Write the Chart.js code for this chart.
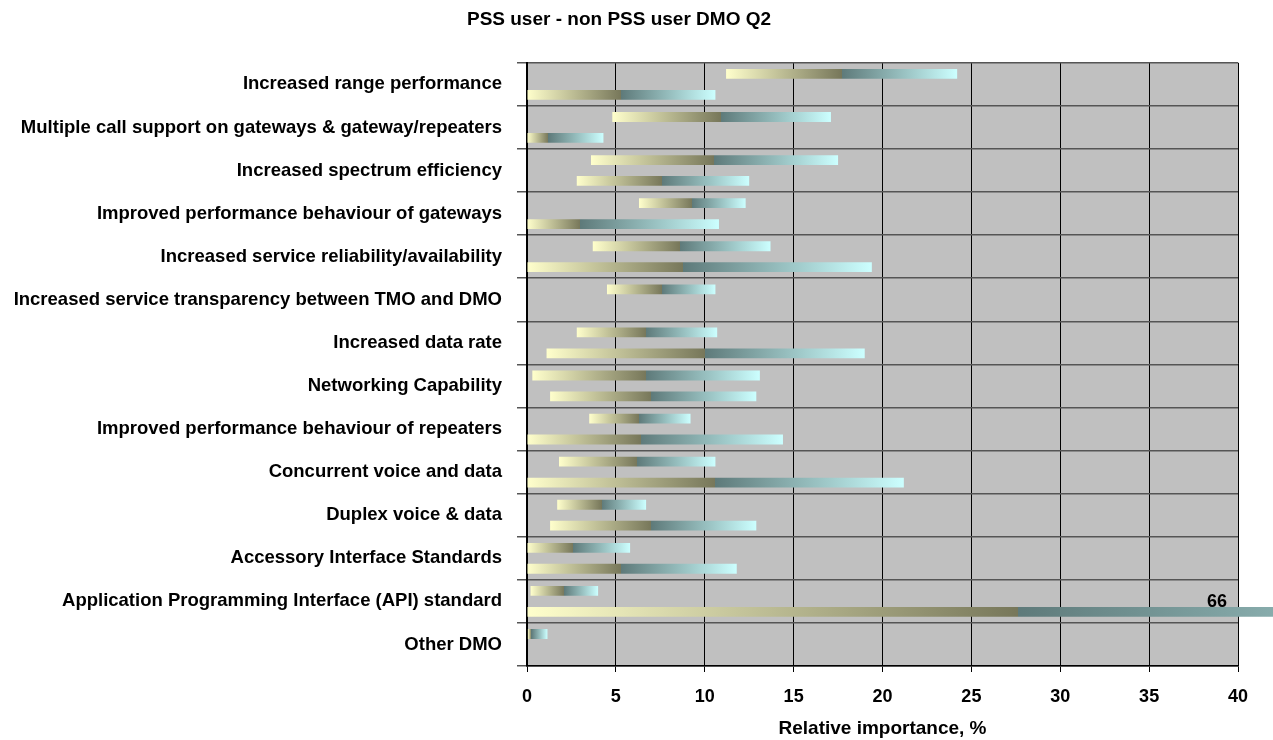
<!DOCTYPE html>
<html>
<head>
<meta charset="utf-8">
<title>PSS user - non PSS user DMO Q2</title>
<script src="https://cdn.jsdelivr.net/npm/chart.js@4.4.1/dist/chart.umd.min.js"></script>
<style>
  html, body { margin: 0; padding: 0; background: #fff; }
  #wrap { width: 1273px; height: 740px; }
</style>
</head>
<body>
<div id="wrap"><canvas id="dmoChart" width="1273" height="740"></canvas></div>
<script>
const categories = [
  "Increased range performance",
  "Multiple call support on gateways & gateway/repeaters",
  "Increased spectrum efficiency",
  "Improved performance behaviour of gateways",
  "Increased service reliability/availability",
  "Increased service transparency between TMO and DMO",
  "Increased data rate",
  "Networking Capability",
  "Improved performance behaviour of repeaters",
  "Concurrent voice and data",
  "Duplex voice & data",
  "Accessory Interface Standards",
  "Application Programming Interface (API) standard",
  "Other DMO"
];

// upper bar of each row
const pssLow  = [11.2, 4.8,  3.6,  6.3,  3.7,  4.5, 2.8,  0.3,  3.5, 1.8,  1.7, 0,   0.2, 0.05];
const pssMid  = [17.7, 10.9, 10.5, 9.3,  8.6,  7.6, 6.7,  6.7,  6.3, 6.2,  4.2, 2.6, 2.1, 0.25];
const pssHigh = [24.2, 17.1, 17.5, 12.3, 13.7, 10.6, 10.7, 13.1, 9.2, 10.6, 6.7, 5.8, 4.0, 1.15];

// lower bar of each row
const nonLow  = [0,    0,   2.8,  0,    0,    null, 1.1,  1.3,  0,    0,    1.3,  0,    0,    null];
const nonMid  = [5.3,  1.2, 7.6,  3.0,  8.8,  null, 10.0, 7.0,  6.4,  10.6, 7.0,  5.3,  27.6, null];
const nonHigh = [10.6, 4.3, 12.5, 10.8, 19.4, null, 19.0, 12.9, 14.4, 21.2, 12.9, 11.8, 66,   null];

const xTicksMax = 40;
const xTickStep = 5;

const FONT = '"Liberation Sans", Arial, sans-serif';

function toRanges(lows, highs) {
  return lows.map((lo, i) => (highs[i] == null ? null : [lo, highs[i]]));
}

// two-part gradient: pale yellow -> olive up to the mid value, then teal -> pale cyan
function barFill(lows, mids, highs) {
  return function (ctx) {
    const chart = ctx.chart;
    const i = ctx.dataIndex;
    if (!chart.chartArea || highs[i] == null) return '#FFFFCC';
    const x = chart.scales.x;
    const x0 = x.getPixelForValue(lows[i]);
    const x1 = x.getPixelForValue(highs[i]);
    const split = (mids[i] - lows[i]) / (highs[i] - lows[i]);
    const g = chart.ctx.createLinearGradient(x0, 0, x1, 0);
    g.addColorStop(0, '#FFFFCC');
    g.addColorStop(split, '#77775A');
    g.addColorStop(split, '#5E7A7A');
    g.addColorStop(1, '#CCFFFF');
    return g;
  };
}

const plotBackground = {
  id: 'plotBackground',
  beforeDraw(chart) {
    const { ctx, chartArea: a } = chart;
    ctx.save();
    ctx.fillStyle = '#FFFFFF';
    ctx.fillRect(0, 0, chart.width, chart.height);
    ctx.fillStyle = '#C0C0C0';
    ctx.fillRect(a.left, a.top, a.right - a.left, a.bottom - a.top);
    ctx.restore();
  }
};

// value label for bars running past the end of the axis
const overflowLabels = {
  id: 'overflowLabels',
  afterDatasetsDraw(chart) {
    const xScale = chart.scales.x;
    const meta = chart.getDatasetMeta(1);
    const ctx = chart.ctx;
    ctx.save();
    ctx.font = 'bold 18px ' + FONT;
    ctx.fillStyle = '#000';
    ctx.textAlign = 'right';
    ctx.textBaseline = 'alphabetic';
    nonHigh.forEach((v, i) => {
      if (v == null || v <= xScale.max) return;
      const bar = meta.data[i];
      ctx.fillText(String(v), chart.chartArea.right - 11, bar.y - bar.height / 2);
    });
    ctx.restore();
  }
};

new Chart(document.getElementById('dmoChart'), {
  type: 'bar',
  data: {
    labels: categories,
    datasets: [{
      label: 'PSS user',
      data: toRanges(pssLow, pssHigh),
      backgroundColor: barFill(pssLow, pssMid, pssHigh),
      borderWidth: 0,
      borderSkipped: false
    }, {
      label: 'non PSS user',
      data: toRanges(nonLow, nonHigh),
      backgroundColor: barFill(nonLow, nonMid, nonHigh),
      borderWidth: 0,
      borderSkipped: false,
      clip: false
    }]
  },
  options: {
    indexAxis: 'y',
    responsive: false,
    animation: false,
    categoryPercentage: 0.97,
    barPercentage: 0.47,
    layout: { padding: { left: 0, right: 35, top: 0, bottom: 0 } },
    plugins: {
      legend: { display: false },
      tooltip: { enabled: false },
      title: {
        display: true,
        text: 'PSS user - non PSS user DMO Q2',
        color: '#000',
        font: { family: FONT, size: 19, weight: 'bold' },
        padding: { top: 8, bottom: 32 }
      }
    },
    scales: {
      x: {
        type: 'linear',
        min: 0,
        max: xTicksMax,
        ticks: {
          stepSize: xTickStep,
          color: '#000',
          padding: 14,
          font: { family: FONT, size: 18, weight: 'bold' }
        },
        grid: { color: '#000', lineWidth: 1, tickLength: 6 },
        border: { color: '#000', width: 1.5 },
        title: {
          display: true,
          text: 'Relative importance, %',
          color: '#000',
          font: { family: FONT, size: 19, weight: 'bold' },
          padding: { top: 4, bottom: 0 }
        },
        afterFit(scale) { scale.height = 74; }
      },
      y: {
        type: 'category',
        ticks: {
          color: '#000',
          padding: 15,
          autoSkip: false,
          font: { family: FONT, size: 18.5, weight: 'bold' }
        },
        grid: { color: '#555555', lineWidth: 1.5, tickLength: 10 },
        border: { color: '#000', width: 2 },
        afterFit(scale) { scale.width = 527; }
      }
    }
  },
  plugins: [plotBackground, overflowLabels]
});
</script>
</body>
</html>
